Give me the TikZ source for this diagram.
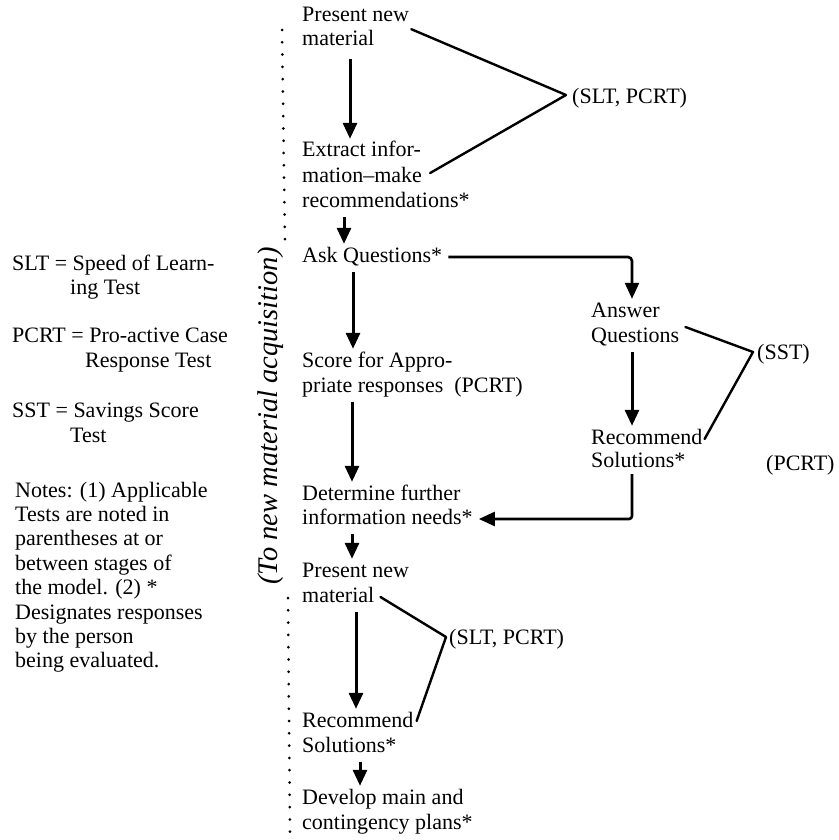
\documentclass[tikz,border=0pt]{standalone}
\usepackage{fontspec}
\setmainfont{Liberation Serif}
\usetikzlibrary{arrows.meta,calc}
\begin{document}
\begin{tikzpicture}[x=1pt,y=-1pt,
  txt/.style={anchor=base west, inner sep=0pt, text height=15pt, text depth=5pt,
              font=\fontsize{22}{24}\selectfont},
  flow/.style={line width=3pt, -{Triangle[length=16pt,width=14pt]},
               shorten <=5pt, shorten >=3pt},
  link/.style={line width=2.4pt, line join=round, line cap=round},
  dots/.style={line width=3pt, line cap=round, dash pattern=on 0pt off 12.3pt},
]
\useasboundingbox (0,0) rectangle (838,840);
% ---- main column
\node[txt] (pA1) at (302,22) {Present new};
\node[txt] (pA2) at (302,46) {material};
\node[txt] (ex1) at (302,157) {Extract infor-};
\node[txt] (ex2) at (302,182) {mation–make};
\node[txt] (ex3) at (302,207) {recommendations*};
\node[txt] (ask) at (302,262) {Ask Questions*};
\node[txt] (sc1) at (302,367) {Score for Appro-};
\node[txt] (sc2) at (302,392) {priate responses\ \ (PCRT)};
\node[txt] (de1) at (302,500) {Determine further};
\node[txt] (de2) at (302,524) {information needs*};
\node[txt] (pB1) at (302,577) {Present new};
\node[txt] (pB2) at (302,602) {material};
\node[txt] (rB1) at (302,727) {Recommend};
\node[txt] (rB2) at (302,752) {Solutions*};
\node[txt] (dv1) at (302,804) {Develop main and};
\node[txt] (dv2) at (302,829) {contingency plans*};
% ---- right column
\node[txt] (an1) at (591,317) {Answer};
\node[txt] (an2) at (591,342) {Questions};
\node[txt] (rc1) at (591,444) {Recommend};
\node[txt] (rc2) at (591,467) {Solutions*};
\node[txt] (sst) at (757,359) {(SST)};
\node[txt] (pcr) at (766,470) {(PCRT)};
\node[txt] (tA) at (572,104) {(SLT, PCRT)};
\node[txt] (tB) at (449,644) {(SLT, PCRT)};
% ---- left legend
\node[txt] (l1a) at (12,270) {SLT = Speed of Learn-};
\node[txt] (l1b) at (70,294) {ing Test};
\node[txt] (l2a) at (12,342) {PCRT = Pro-active Case};
\node[txt] (l2b) at (85,367) {Response Test};
\node[txt] (l3a) at (12,417) {SST = Savings Score};
\node[txt] (l3b) at (70,442) {Test};
\node[txt] (n1) at (15,497) {Notes: (1) Applicable};
\node[txt] (n2) at (15,521) {Tests are noted in};
\node[txt] (n3) at (15,545) {parentheses at or};
\node[txt] (n4) at (15,570) {between stages of};
\node[txt] (n5) at (15,594) {the model. (2) *};
\node[txt] (n6) at (15,619) {Designates responses};
\node[txt] (n7) at (15,643) {by the person};
\node[txt] (n8) at (15,667) {being evaluated.};
% ---- dotted divider with rotated label
\node[rotate=90, inner sep=0pt, font=\fontsize{28.5}{30}\selectfont\itshape] (acq) at (271,416) {(To new material acquisition)};
\draw[dots] (282,30) -- (285,243);
\draw[dots] (288,598) -- (290,835);
% ---- arrow x positions
\coordinate (x1) at (350,0);
\coordinate (x2) at (344,0);
\coordinate (x3) at (353,0);
\coordinate (x4) at (352,0);
\coordinate (x5) at (352,0);
\coordinate (x6) at (356,0);
\coordinate (x7) at (360,0);
\coordinate (xr) at (632,0);
% ---- main flow arrows
\draw[flow, shorten <=8pt] (x1 |- pA2.south) -- (x1 |- ex1.north);
\draw[flow] (x2 |- ex3.south) -- (x2 |- ask.north);
\draw[flow] (x3 |- ask.south) -- (x3 |- sc1.north);
\draw[flow] (x4 |- sc2.south) -- (x4 |- de1.north);
\draw[flow] (x5 |- de2.south) -- (x5 |- pB1.north);
\draw[flow] (x6 |- pB2.south) -- (x6 |- rB1.north);
\draw[flow] (x7 |- rB2.south) -- (x7 |- dv1.north);
% ---- side branch
\draw[flow, line width=2.6pt, rounded corners=4pt, shorten <=6pt] (ask.east) -| (xr |- an1.north);
\draw[flow] (xr |- an2.south) -- (xr |- rc1.north);
\draw[flow, line width=2.6pt, rounded corners=3pt, shorten <=2pt, shorten >=6pt] (xr |- rc2.south) |- (de2.east);
% ---- brackets to test labels
\coordinate (vA) at (566,95);
\coordinate (vS) at (753,352);
\coordinate (vB) at (446,637);
\draw[link] ($(pA1.south east)+(2,2)$) -- (vA) -- ($(ex2.east)+(8,-4)$);
\draw[link] ($(an2.east)+(6,-10)$) -- (vS) -- ($(rc1.east)+(2,0)$);
\draw[link] ($(pB2.east)+(6,0)$) -- (vB) -- ($(rB1.east)+(3,-1)$);
\end{tikzpicture}
\end{document}
